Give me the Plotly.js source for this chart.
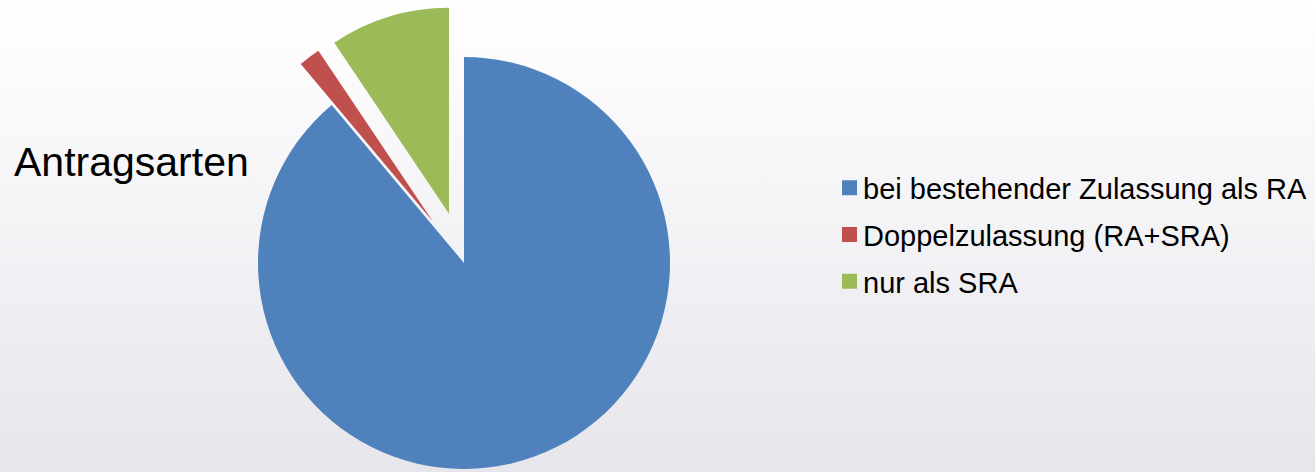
<!DOCTYPE html>
<html>
<head>
<meta charset="utf-8">
<script src="https://cdn.plot.ly/plotly-3.0.1.min.js"></script>
<style>
  html, body { margin: 0; padding: 0; }
  body { width: 1315px; height: 472px; overflow: hidden;
         background: linear-gradient(to bottom, #ffffff 0%, #f3f3f6 50%, #e5e5eb 100%); }
  #chart { width: 1315px; height: 472px; }
  #chart path.legendpie { transform: translate(26.5px, 0px) scale(1.25); }
</style>
</head>
<body>
<div id="chart"></div>
<script>
// ---- data ----
const categories = ['bei bestehender Zulassung als RA', 'Doppelzulassung (RA+SRA)', 'nur als SRA'];
const shares = [88.9, 1.7, 9.4];
const sliceColors = ['#4F81BD', '#C0504D', '#9BBB59'];
const pulled = [0, 0.25, 0.25];
const chartTitle = 'Antragsarten';

// ---- geometry (px) ----
const W = 1315, H = 472;
const R = 206;              // pie radius
const CX = 464, CY = 263;   // pie centre

function domainFor(cx, cy) {
  return { x: [(cx - R) / W, (cx + R) / W], y: [1 - (cy + R) / H, 1 - (cy - R) / H] };
}

const total = shares.reduce((a, b) => a + b, 0);
const traces = [];

// legend-only traces (tiny, hidden under the pie)
categories.forEach((c, i) => {
  traces.push({
    type: 'pie', labels: [c], values: [shares[i]], sort: false,
    marker: { colors: [sliceColors[i]], line: { width: 0 } },
    domain: { x: [0.35, 0.3501], y: [0.4, 0.4001] },
    textinfo: 'none', hoverinfo: 'skip', legendgroup: 'g' + i, showlegend: true
  });
});

// one trace per slice, each shifted by its pull along the slice's mid-angle
let cum = 0;
const mids = shares.map(v => { const m = (cum + v / 2) / total; cum += v; return m; });
categories.forEach((c, i) => {
  const ang = mids[i] * 2 * Math.PI;  // clockwise from 12 o'clock
  const off = pulled[i] * R;
  const cx = CX + off * Math.sin(ang);
  const cy = CY - off * Math.cos(ang);
  traces.push({
    type: 'pie', labels: categories, values: shares, sort: false,
    direction: 'clockwise', rotation: 0,
    marker: { colors: sliceColors.map((col, j) => j === i ? col : 'rgba(0,0,0,0)'), line: { width: 0 } },
    domain: domainFor(cx, cy),
    textinfo: 'none', hoverinfo: 'skip', showlegend: false, legendgroup: 'g' + i
  });
});

const layout = {
  width: W, height: H,
  margin: { l: 0, r: 0, t: 0, b: 0 },
  paper_bgcolor: 'rgba(0,0,0,0)',
  plot_bgcolor: 'rgba(0,0,0,0)',
  font: { family: 'Liberation Sans, Arial, sans-serif', color: '#000000' },
  title: {
    text: chartTitle,
    font: { family: 'Liberation Sans, Arial, sans-serif', size: 41, color: '#000000' },
    xref: 'container', yref: 'container',
    x: 14 / W, xanchor: 'left',
    y: 1 - 162 / H, yanchor: 'middle'
  },
  showlegend: true,
  legend: {
    x: 823 / W, xanchor: 'left',
    y: 1 - 235 / H, yanchor: 'middle',
    bgcolor: 'rgba(0,0,0,0)', borderwidth: 0,
    font: { family: 'Liberation Sans, Arial, sans-serif', size: 29, color: '#000000' },
    traceorder: 'grouped', tracegroupgap: 6
  }
};

Plotly.newPlot('chart', traces, layout, { displayModeBar: false, staticPlot: true });
</script>
</body>
</html>
